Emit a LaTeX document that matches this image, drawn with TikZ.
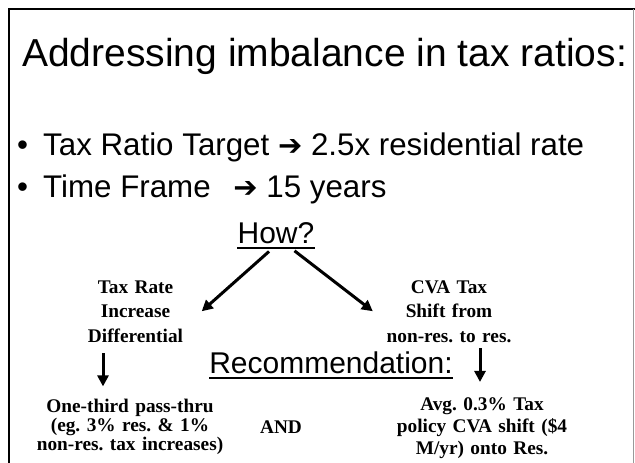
\documentclass[tikz,border=0pt]{standalone}
\usepackage{fontspec}
\newfontfamily\arialfont{Liberation Sans}
\newfontfamily\timesfont{Liberation Serif}
\newfontfamily\symfont{DejaVu Sans}
\usetikzlibrary{arrows.meta}
\frenchspacing
\newcommand{\bigarrow}{{\symfont\bfseries\fontsize{29}{29}\selectfont ➔}}

\begin{document}
\begin{tikzpicture}[
  x=1pt, y=-1pt,
  heading/.style={font=\arialfont\fontsize{39}{44}\selectfont, anchor=base west, inner sep=0pt},
  bulletline/.style={font=\arialfont\fontsize{31.3}{36}\selectfont, anchor=base west, inner sep=0pt},
  subhead/.style={font=\arialfont\fontsize{30}{36}\selectfont, anchor=base, inner sep=0pt},
  option/.style={font=\timesfont\bfseries\fontsize{19.3}{24.5}\selectfont, align=center, anchor=base, inner sep=3pt},
  result/.style={font=\timesfont\bfseries\fontsize{19.3}{19}\selectfont, align=center, anchor=base, inner sep=3pt},
  flow/.style={-{Triangle[length=11pt,width=11pt]}, line width=3pt},
  uline/.style={line width=2.5pt}
]
\useasboundingbox (0,0) rectangle (635,463);

% slide frame
\draw[line width=2pt] (9,463) -- (9,9) -- (635,9);
\draw[black!40, line width=1pt] (633,9) -- (633,463);

% Title and bullets
\node[heading] (title) at (22,66) {Addressing imbalance in tax ratios:};
\node[bulletline] (target) at (17,155) {\makebox[26pt][l]{•}Tax Ratio Target \bigarrow{} 2.5x residential rate};
\node[bulletline] (frame) at (17,197) {\makebox[26pt][l]{•}Time Frame\hspace{14pt} \bigarrow{} 15 years};

% How?
\node[subhead] (how) at (276,243) {How?};
\draw[uline] ([yshift=-5pt]how.base west) -- ([yshift=-5pt]how.base east);

% Two options
\node[option, text width=126pt] (taxrate) at (135.5,293) {Tax Rate\\Increase\\Differential};
\node[option, text width=146pt] (cva) at (449,293) {CVA Tax\\Shift from\\non-res. to res.};

% Recommendation
\node[subhead] (recommend) at (331,373) {Recommendation:};
\draw[uline] ([yshift=-5pt]recommend.base west) -- ([yshift=-5pt]recommend.base east);

% Results
\node[result, text width=190pt] (passthru) at (130,412) {One-third pass-thru\\(eg. 3\% res. \& 1\%\\non-res. tax increases)};
\node[result, text width=50pt] (andnode) at (281,433) {AND};
\node[result, text width=176pt, font=\timesfont\bfseries\fontsize{19.3}{22}\selectfont] (avg) at (482,410) {Avg. 0.3\% Tax\\policy CVA shift (\$4\\M/yr) onto Res.};

% Arrows
\draw[flow, shorten <=12pt] ([xshift=2pt]how.south) -- (taxrate.east);
\draw[flow, shorten <=12pt] ([xshift=9pt]how.south) -- (cva.west);
\draw[flow, shorten <=8pt, shorten >=9pt] ([xshift=-32.5pt]taxrate.south) -- ([xshift=-27pt]passthru.north);
\draw[flow, shorten <=3pt, shorten >=12pt] ([xshift=31pt]cva.south) -- ([xshift=-2pt]avg.north);

\end{tikzpicture}
\end{document}
